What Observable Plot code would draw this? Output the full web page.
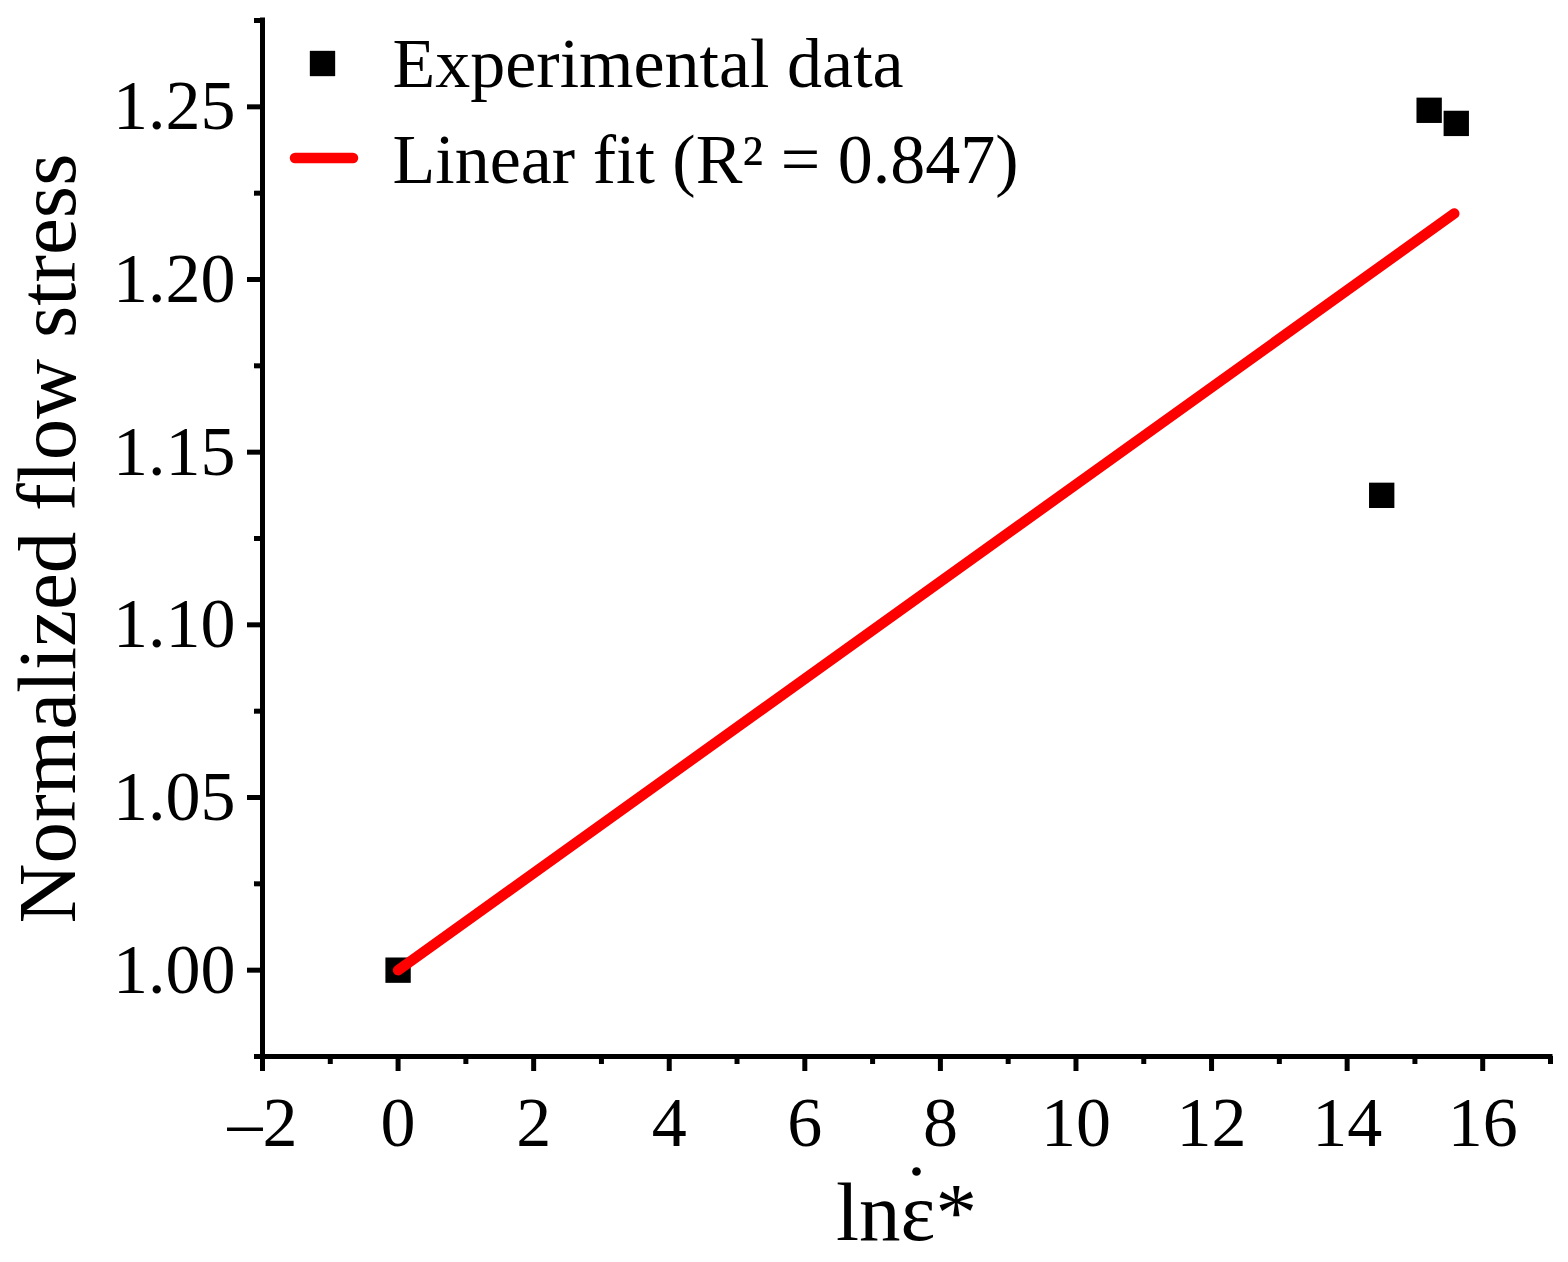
<!DOCTYPE html>
<html>
<head>
<meta charset="utf-8">
<script src="https://cdn.jsdelivr.net/npm/d3@7"></script>
<script src="https://cdn.jsdelivr.net/npm/@observablehq/plot@0.6"></script>
<style>
  html, body { margin: 0; padding: 0; background: #fff; }
  #chart { width: 1568px; height: 1262px; }
</style>
</head>
<body>
<div id="chart"></div>
<script>
// Experimental data
const expX = [0, 14.51, 15.21, 15.61];
const expY = [1.000, 1.1375, 1.249, 1.2452];
// Linear fit line endpoints
const fitX = [0, 15.58];
const fitY = [1.000, 1.2191];
// Ticks
const xMajor = [-2, 0, 2, 4, 6, 8, 10, 12, 14, 16];
const xMinor = [-1, 1, 3, 5, 7, 9, 11, 13, 15, 17];
const yMajor = [1.00, 1.05, 1.10, 1.15, 1.20, 1.25];
const yMinor = [0.975, 1.025, 1.075, 1.125, 1.175, 1.225, 1.275];
const xDomain = [-2, 17];
const yDomain = [0.975, 1.275];
const legendLabels = ["Experimental data", "Linear fit (R\u00B2 = 0.847)"];
const xTitle = "ln\u03B5*";
const yTitle = "Normalized flow stress";

const points = expX.map((x, i) => ({x, y: expY[i]}));
const fit = fitX.map((x, i) => ({x, y: fitY[i]}));

const FONT = "Liberation Serif, Times New Roman, serif";
const W = 1568, H = 1262;

const plot = Plot.plot({
  width: W,
  height: H,
  marginLeft: 262,
  marginRight: 18,
  marginTop: 20,
  marginBottom: 206,
  style: {fontFamily: FONT, background: "#fff", color: "#000", overflow: "visible"},
  x: {domain: xDomain},
  y: {domain: yDomain},
  marks: [
    Plot.axisX(xMinor, {tickSize: 8, strokeWidth: 5, text: null, label: null}),
    Plot.axisX(xMajor, {tickSize: 15, strokeWidth: 5, tickPadding: 25, fontSize: 70,
      tickFormat: d => d < 0 ? "\u2013" + Math.abs(d) : String(d), label: null}),
    Plot.axisY(yMinor, {tickSize: 8, strokeWidth: 5, text: null, label: null}),
    Plot.axisY(yMajor, {tickSize: 15, strokeWidth: 5, tickPadding: 12, fontSize: 70,
      tickFormat: d => d.toFixed(2), label: null}),
    Plot.ruleY([yDomain[0]], {strokeWidth: 5, x1: xDomain[0], x2: xDomain[1], strokeLinecap: "square"}),
    Plot.ruleX([xDomain[0]], {strokeWidth: 5, y1: yDomain[0], y2: yDomain[1], strokeLinecap: "square"}),
    Plot.dot(points, {x: "x", y: "y", symbol: "square", r: 14.3, fill: "#000", stroke: "none"}),
    Plot.line(fit, {x: "x", y: "y", stroke: "#ff0000", strokeWidth: 10.5, strokeLinecap: "round"}),
    Plot.text([yTitle], {frameAnchor: "left", rotate: -90, dx: -214, fontSize: 83,
      textAnchor: "middle", lineAnchor: "middle", fill: "#000"}),
    Plot.text([xTitle], {frameAnchor: "bottom", dy: 157, fontSize: 83,
      textAnchor: "middle", lineAnchor: "middle", fill: "#000"}),
    // dot over epsilon
    Plot.dot([xTitle], {frameAnchor: "bottom", dx: 10, dy: 115, r: 4.3, fill: "#000", stroke: "none"}),
    // legend
    Plot.dot([legendLabels[0]], {frameAnchor: "top-left", dx: 60, dy: 43, symbol: "square", r: 14.3, fill: "#000", stroke: "none"}),
    Plot.text([legendLabels[0]], {frameAnchor: "top-left", dx: 130, dy: 44, fontSize: 70,
      textAnchor: "start", lineAnchor: "middle", fill: "#000"}),
    Plot.text([legendLabels[1]], {frameAnchor: "top-left", dx: 130, dy: 140, fontSize: 70,
      textAnchor: "start", lineAnchor: "middle", fill: "#000"})
  ]
});

// legend line sample (red)
d3.select(plot).append("line")
  .attr("x1", 295).attr("x2", 353)
  .attr("y1", 158).attr("y2", 158)
  .attr("stroke", "#ff0000").attr("stroke-width", 10.5).attr("stroke-linecap", "round");

document.getElementById("chart").appendChild(plot);
</script>
</body>
</html>
